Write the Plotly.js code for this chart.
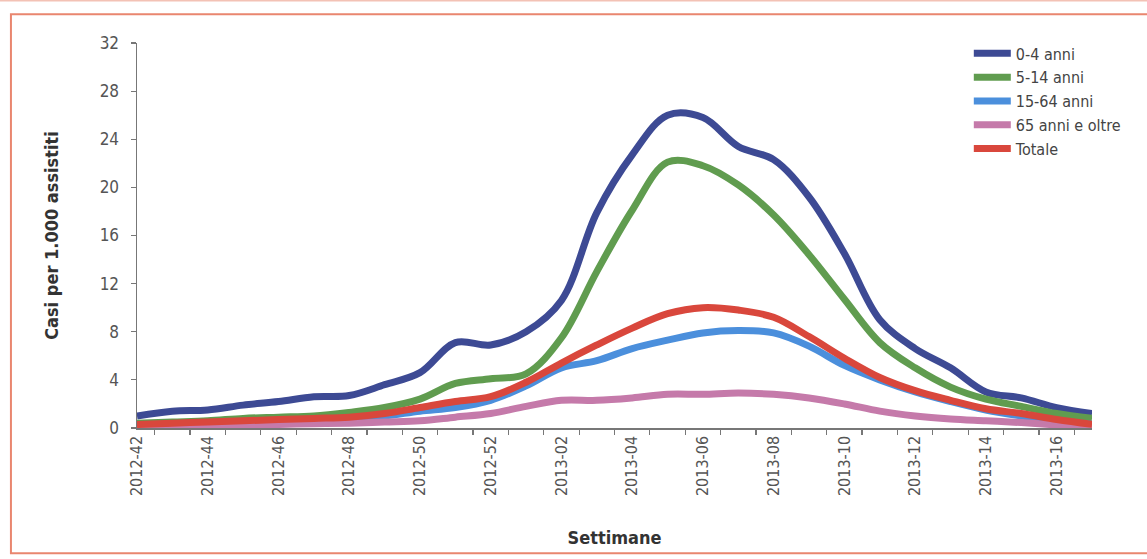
<!DOCTYPE html>
<html>
<head>
<meta charset="utf-8">
<script src="https://cdn.plot.ly/plotly-3.0.1.min.js"></script>
<style>
html,body{margin:0;padding:0;background:#fff;}
#chart{width:1147px;height:559px;}
</style>
</head>
<body>
<div id="chart"></div>
<script>
// Weeks (categories)
var weeks = ["2012-42","2012-43","2012-44","2012-45","2012-46","2012-47","2012-48","2012-49","2012-50","2012-51","2012-52",
             "2013-01","2013-02","2013-03","2013-04","2013-05","2013-06","2013-07","2013-08","2013-09","2013-10",
             "2013-11","2013-12","2013-13","2013-14","2013-15","2013-16","2013-17"];

// Series values (cases per 1,000 patients)
var age0_4   = [1.0,1.4,1.5,1.9,2.2,2.6,2.7,3.6,4.6,7.1,6.9,8.0,10.6,17.9,22.7,26.0,25.8,23.4,22.3,19.2,14.5,9.0,6.6,5.0,3.0,2.5,1.7,1.2];
var age5_14  = [0.4,0.5,0.6,0.8,0.9,1.0,1.3,1.7,2.4,3.7,4.1,4.5,7.5,13.0,18.1,22.1,21.8,20.2,17.7,14.4,10.7,7.1,5.0,3.4,2.4,1.8,1.2,0.8];
var age15_64 = [0.2,0.3,0.4,0.5,0.6,0.7,0.8,1.0,1.4,1.7,2.3,3.5,5.0,5.6,6.6,7.3,7.9,8.1,7.9,6.8,5.2,4.0,3.0,2.2,1.5,1.0,0.6,0.3];
var age65    = [0.1,0.15,0.2,0.25,0.3,0.35,0.4,0.5,0.6,0.9,1.2,1.8,2.3,2.3,2.5,2.8,2.8,2.9,2.8,2.5,2.0,1.4,1.0,0.75,0.6,0.45,0.25,0.1];
var totale   = [0.3,0.4,0.5,0.6,0.7,0.8,0.9,1.2,1.7,2.2,2.6,3.8,5.4,6.9,8.3,9.5,10.0,9.8,9.2,7.6,5.8,4.2,3.1,2.3,1.6,1.2,0.7,0.3];

var seriesNames = ["0-4 anni","5-14 anni","15-64 anni","65 anni e oltre","Totale"];
var seriesColors = ["#3d4a94","#609c4f","#4b8fdc","#c57aaa","#d9473c"];
var seriesData = [age0_4, age5_14, age15_64, age65, totale];

// Tick labels: every other week
var tickText = weeks.map(function(w, i){ return (i % 2 === 0) ? w : ""; });

var narrow = "DejaVu Sans Condensed, Liberation Sans, sans-serif";
var boldFont = "DejaVu Sans Condensed, Liberation Sans, sans-serif";

var traces = seriesData.map(function(d, i){
  return {
    x: weeks, y: d, type: "scatter", mode: "lines",
    name: seriesNames[i],
    line: {color: seriesColors[i], width: 7, shape: "spline", smoothing: 1}
  };
});

var layout = {
  width: 1147, height: 559,
  margin: {l: 137, r: 55, t: 43, b: 131},
  paper_bgcolor: "#ffffff", plot_bgcolor: "#ffffff",
  showlegend: true,
  legend: {
    x: 0.871, y: 1.017, xanchor: "left", yanchor: "top",
    font: {family: narrow, size: 16, color: "#444"},
    itemwidth: 37,
    bgcolor: "rgba(0,0,0,0)", tracegroupgap: 0
  },
  xaxis: {
    type: "category",
    tickmode: "array", tickvals: weeks, ticktext: tickText,
    tickson: "boundaries",
    ticks: "outside", ticklen: 5, tickcolor: "#777", tickwidth: 1.2,
    tickangle: -90,
    tickfont: {family: narrow, size: 16, color: "#555"},
    showline: true, linecolor: "#777", linewidth: 1.5,
    showgrid: false, zeroline: false,
    title: {text: "Settimane", font: {family: boldFont, size: 18, color: "#333", weight: "bold"}, standoff: 36}
  },
  yaxis: {
    range: [0, 32], dtick: 4, tick0: 0,
    ticks: "outside", ticklen: 5, tickcolor: "#777", tickwidth: 1.2,
    tickfont: {family: narrow, size: 17, color: "#555"},
    ticklabelstandoff: 8,
    showline: true, linecolor: "#777", linewidth: 1.5,
    showgrid: false, zeroline: false,
    title: {text: "Casi per 1.000 assistiti", font: {family: boldFont, size: 18, color: "#333", weight: "bold"}, standoff: 36}
  },
  shapes: [
    {type: "rect", xref: "paper", yref: "paper",
     x0: -0.132, x1: 1.08, y0: -0.325, y1: 1.075,
     line: {color: "#e9866f", width: 2}, fillcolor: "rgba(0,0,0,0)", layer: "below"},
    {type: "line", xref: "paper", yref: "paper",
     x0: -0.15, x1: 1.1, y0: 1.11, y1: 1.11,
     line: {color: "#f3c2b5", width: 1.5}}
  ]
};

Plotly.newPlot("chart", traces, layout, {displayModeBar: false, staticPlot: true});
</script>
</body>
</html>
